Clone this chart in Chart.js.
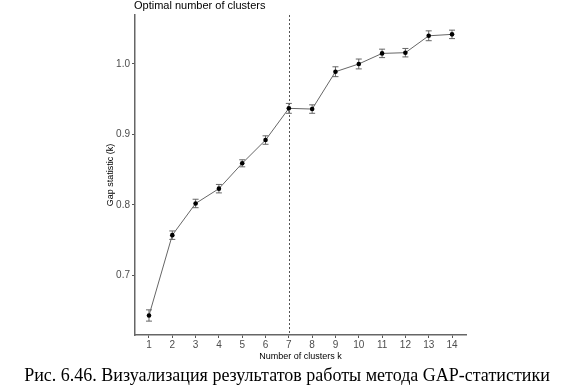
<!DOCTYPE html>
<html><head><meta charset="utf-8">
<script src="https://cdn.jsdelivr.net/npm/chart.js@4/dist/chart.umd.min.js"></script>
<style>
html,body{margin:0;padding:0;background:#fff;}
#wrap{position:relative;width:574px;height:390px;overflow:hidden;}
#plotTitle{position:absolute;left:134px;top:-1px;font:11px "Liberation Sans",Arial,sans-serif;color:#000;white-space:nowrap;}
#caption{position:absolute;left:0;width:574px;top:365px;text-align:center;font:18px "Liberation Serif","Times New Roman",serif;color:#000;white-space:nowrap;}
</style></head><body>
<div id="wrap"><canvas id="c" width="574" height="390"></canvas>
<div id="plotTitle">Optimal number of clusters</div>
<div id="caption">Рис. 6.46. Визуализация результатов работы метода GAP-статистики</div></div>
<script>
const clustersK = [1,2,3,4,5,6,7,8,9,10,11,12,13,14];
const gapValues = [0.643,0.757,0.802,0.823,0.859,0.892,0.937,0.936,0.989,1.000,1.015,1.016,1.040,1.042];
const gapSE = [0.008,0.006,0.006,0.006,0.005,0.006,0.007,0.006,0.007,0.007,0.006,0.006,0.007,0.006];
const yTickValues = [0.7,0.8,0.9,1.0];
const optimalK = 7;

const errorBarPlugin = {
  id: 'errbars',
  beforeDatasetsDraw(chart) {
    const {ctx, chartArea, scales:{x,y}} = chart;
    ctx.save();
    ctx.strokeStyle = '#555';
    ctx.lineWidth = 1;
    ctx.setLineDash([2,2]);
    const vx = Math.round(x.getPixelForValue(optimalK)) + 0.5;
    ctx.beginPath();
    ctx.moveTo(vx, chartArea.top);
    ctx.lineTo(vx, chartArea.bottom);
    ctx.stroke();
    ctx.setLineDash([]);
    ctx.strokeStyle = '#666';
    ctx.lineWidth = 1;
    clustersK.forEach((k,i) => {
      const px = x.getPixelForValue(k);
      const y1 = y.getPixelForValue(gapValues[i] - gapSE[i]);
      const y2 = y.getPixelForValue(gapValues[i] + gapSE[i]);
      ctx.beginPath();
      ctx.moveTo(px, y1); ctx.lineTo(px, y2);
      ctx.moveTo(px-3, y1); ctx.lineTo(px+3, y1);
      ctx.moveTo(px-3, y2); ctx.lineTo(px+3, y2);
      ctx.stroke();
    });
    ctx.restore();
  }
};

new Chart(document.getElementById('c'), {
  type: 'line',
  data: {
    datasets: [{
      data: clustersK.map((k,i) => ({x:k, y:gapValues[i]})),
      borderColor: '#666',
      borderWidth: 1,
      pointRadius: 2.3,
      pointBackgroundColor: '#000',
      pointBorderColor: '#000',
      pointBorderWidth: 0,
      tension: 0,
      fill: false
    }]
  },
  options: {
    responsive: false,
    animation: false,
    layout: {padding: {left: 0, right: 108, top: 15, bottom: 28}},
    plugins: {legend: {display:false}, tooltip: {enabled:false}},
    scales: {
      x: {
        type: 'linear', min: 0.4, max: 14.6,
        afterBuildTicks(s){ s.ticks = clustersK.map(v => ({value:v})); },
        afterFit(s){ s.height = 27; },
        grid: {drawOnChartArea:false, color:'#555', tickLength:3},
        border: {color:'#666', width:1.5},
        ticks: {color:'#4d4d4d', font:{family:'"Liberation Sans", Arial, sans-serif', size:10}, padding:1, maxRotation:0, autoSkip:false},
        title: {display:true, text:'Number of clusters k', color:'#000', font:{family:'"Liberation Sans", Arial, sans-serif', size:9}, padding:{top:0,bottom:0}}
      },
      y: {
        type: 'linear', min: 0.6153, max: 1.0695,
        afterBuildTicks(s){ s.ticks = yTickValues.map(v => ({value:v})); },
        afterFit(s){ s.width = 135; },
        grid: {drawOnChartArea:false, color:'#555', tickLength:3},
        border: {color:'#666', width:1.5},
        ticks: {color:'#4d4d4d', font:{family:'"Liberation Sans", Arial, sans-serif', size:10}, padding:2, callback: v => v.toFixed(1)},
        title: {display:true, text:'Gap statistic (k)', color:'#000', font:{family:'"Liberation Sans", Arial, sans-serif', size:9}, padding:{top:105,bottom:0}}
      }
    }
  },
  plugins: [errorBarPlugin]
});
</script>
</body></html>
